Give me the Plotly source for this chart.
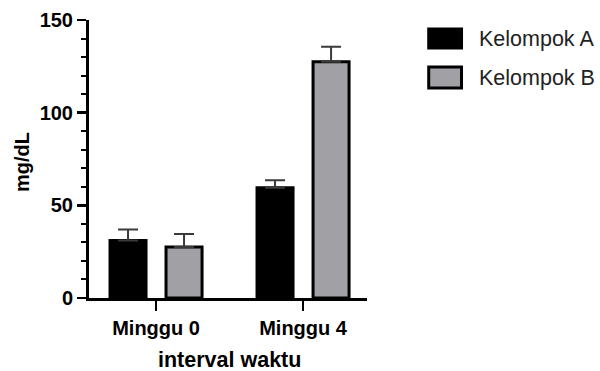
import plotly.graph_objects as go

categories = ["Minggu 0", "Minggu 4"]
group_a = [31.0, 59.5]
group_b = [27.5, 127.5]
err_a = [6.0, 4.0]
err_b = [7.0, 8.0]
series_names = ["Kelompok A", "Kelompok B"]
y_ticks = [0, 50, 100, 150]

FONT = "Liberation Sans, Arial, sans-serif"

fig = go.Figure()
fig.add_trace(go.Bar(
    x=categories, y=group_a, name=series_names[0],
    width=0.245, offset=-0.313,
    marker=dict(color="black", line=dict(color="black", width=3)),
    error_y=dict(type="data", symmetric=False, array=err_a, arrayminus=[0, 0],
                 color="#3a3a3a", thickness=2, width=10),
    showlegend=False,
))
fig.add_trace(go.Bar(
    x=categories, y=group_b, name=series_names[1],
    width=0.245, offset=0.068,
    marker=dict(color="#a1a1a5", line=dict(color="black", width=3)),
    error_y=dict(type="data", symmetric=False, array=err_b, arrayminus=[0, 0],
                 color="#3a3a3a", thickness=2, width=10),
    showlegend=False,
))

fig.update_layout(
    width=600, height=371,
    margin=dict(l=89, r=233, t=20, b=73, autoexpand=False),
    plot_bgcolor="white", paper_bgcolor="white",
    font=dict(family=FONT, color="black"),
    xaxis=dict(
        range=[-0.456, 1.435], showline=True, linecolor="black", linewidth=3,
        ticks="outside", ticklen=10, tickwidth=2.5, tickcolor="black",
        tickfont=dict(size=20, family=FONT, weight="bold"),
        showgrid=False, zeroline=False, automargin=False,
    ),
    yaxis=dict(
        range=[0, 150], showline=True, linecolor="black", linewidth=3,
        tickvals=y_ticks, ticktext=[str(v) for v in y_ticks],
        ticks="outside", ticklen=9, tickwidth=2.5, tickcolor="black",
        minor=dict(dtick=10, ticks="outside", ticklen=5, tickwidth=2, tickcolor="black"),
        tickfont=dict(size=20, family=FONT, weight="bold"),
        showgrid=False, zeroline=False, automargin=False,
    ),
)

# axis titles
fig.add_annotation(text="<b>mg/dL</b>", xref="paper", yref="paper", x=-0.241, y=0.489,
                   textangle=-90, showarrow=False, font=dict(size=20, family=FONT),
                   xanchor="center", yanchor="middle")
fig.add_annotation(text="<b>interval waktu</b>", xref="paper", yref="paper", x=0.507, y=-0.223,
                   showarrow=False, font=dict(size=21.5, family=FONT),
                   xanchor="center", yanchor="middle")

# custom legend
colors = ["black", "#a1a1a5"]
swatch_y = [(0.899, 0.968), (0.755, 0.831)]
text_y = [0.933, 0.793]
for name, col, (sy0, sy1), ty in zip(series_names, colors, swatch_y, text_y):
    fig.add_shape(type="rect", xref="paper", yref="paper",
                  x0=1.222, x1=1.34, y0=sy0, y1=sy1,
                  fillcolor=col, line=dict(color="black", width=3))
    fig.add_annotation(text=name, xref="paper", yref="paper", x=1.397, y=ty,
                       showarrow=False, xanchor="left", yanchor="middle",
                       font=dict(size=21.5, family=FONT, color="#222222"))

fig.write_html("out.html",
               config={"displayModeBar": False, "staticPlot": True},
               post_script="document.body.style.margin='0';document.body.style.overflow='hidden';")
